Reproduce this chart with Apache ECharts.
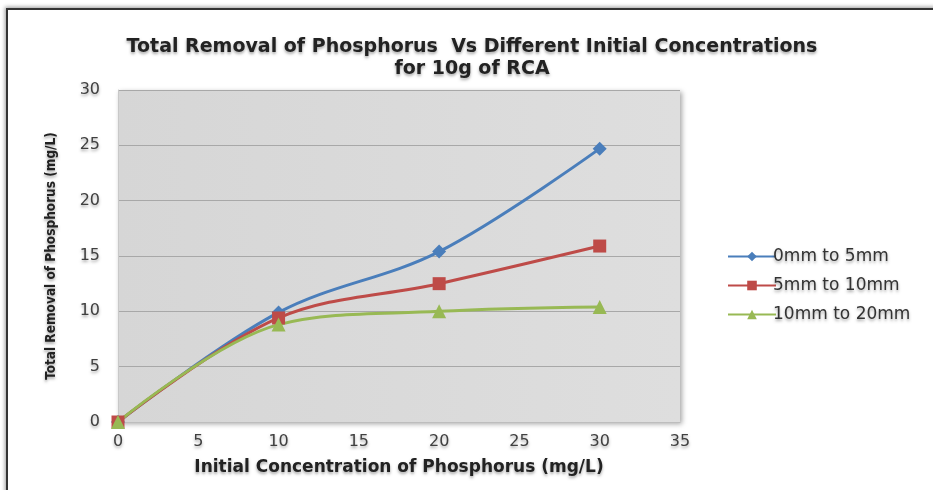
<!DOCTYPE html>
<html>
<head>
<meta charset="utf-8">
<script src="https://cdn.jsdelivr.net/npm/echarts@6/dist/echarts.min.js"></script>
<style>
  html, body { margin: 0; padding: 0; background: #fff; }
  #frame { position: absolute; left: 6px; top: 8px; width: 940px; height: 490px;
           border-left: 2px solid #333; border-top: 2px solid #333;
           box-shadow: -1px -1px 4px rgba(0,0,0,0.4); }
  #chart { position: absolute; left: 0; top: 0; width: 933px; height: 490px; }
</style>
</head>
<body>
<div id="frame"></div>
<div id="chart"></div>
<script>
// concentrations (mg/L)
const concentrations = [0, 10, 20, 30];
const seriesNames = ['0mm to 5mm', '5mm to 10mm', '10mm to 20mm'];
const removal0to5 = [0, 9.9, 15.4, 24.7];
const removal5to10 = [0, 9.4, 12.5, 15.9];
const removal10to20 = [0, 8.8, 10.0, 10.4];

const chart = echarts.init(document.getElementById('chart'));

function pairs(vals) {
    return concentrations.map((c, i) => [c, vals[i]]);
}

const labelStyle = {
    color: '#404040',
    fontFamily: 'DejaVu Sans',
    fontSize: 16,
    textShadowColor: 'rgba(0,0,0,0.35)',
    textShadowBlur: 3,
    textShadowOffsetY: 2
};

function makeSeries(name, vals, color, symbol, size) {
    return {
        name: name,
        type: 'line',
        data: pairs(vals),
        smooth: 0.35,
        symbol: symbol,
        symbolSize: size,
        lineStyle: { color: color, width: 3 },
        itemStyle: { color: color },
        emphasis: { disabled: true }
    };
}

const option = {
    backgroundColor: 'transparent',
    animation: false,
    title: {
        text: 'Total Removal of Phosphorus  Vs Different Initial Concentrations\nfor 10g of RCA',
        left: 467,
        top: 31,
        textAlign: 'center',
        textStyle: {
            fontFamily: 'DejaVu Sans',
            fontWeight: 'bold',
            fontSize: 19,
            lineHeight: 22,
            color: '#222',
            textShadowColor: 'rgba(0,0,0,0.35)',
            textShadowBlur: 3,
            textShadowOffsetY: 2
        }
    },
    legend: {
        orient: 'vertical',
        left: 722,
        top: 243,
        itemGap: 12,
        itemWidth: 48,
        itemHeight: 12,
        textStyle: Object.assign({}, labelStyle, { color: '#333', fontSize: 17, padding: [0, 0, 0, -8] }),
        data: seriesNames
    },
    grid: {
        left: 118,
        right: 253,
        top: 90,
        bottom: 68,
        show: true,
        borderWidth: 0,
        backgroundColor: new echarts.graphic.LinearGradient(0, 0, 1, 0, [
            { offset: 0, color: '#d6d6d6' },
            { offset: 1, color: '#dedede' }
        ]),
        shadowColor: 'rgba(0,0,0,0.35)',
        shadowBlur: 5,
        shadowOffsetX: 2,
        shadowOffsetY: 2
    },
    xAxis: {
        type: 'value',
        min: 0,
        max: 35,
        interval: 5,
        name: 'Initial Concentration of Phosphorus (mg/L)',
        nameLocation: 'middle',
        nameGap: 37,
        nameTextStyle: Object.assign({}, labelStyle, { color: '#222', fontWeight: 'bold', fontSize: 17 }),
        axisLine: { show: true, lineStyle: { color: '#bdbdbd', width: 1 } },
        axisTick: { show: false },
        splitLine: { show: false },
        axisLabel: Object.assign({ margin: 12 }, labelStyle)
    },
    yAxis: {
        type: 'value',
        min: 0,
        max: 30,
        interval: 5,
        name: 'Total Removal of Phosphorus (mg/L)',
        nameLocation: 'middle',
        nameGap: 60,
        nameTextStyle: Object.assign({}, labelStyle, {
            color: '#222', fontWeight: 'bold', fontSize: 13.5,
            fontFamily: 'DejaVu Sans Condensed, Open Sans'
        }),
        axisLine: { show: true, lineStyle: { color: '#c8c8c8', width: 1 } },
        axisTick: { show: false },
        splitLine: { show: true, lineStyle: { color: '#a8a8a8', width: 1 } },
        axisLabel: Object.assign({ margin: 18 }, labelStyle)
    },
    series: [
        makeSeries(seriesNames[0], removal0to5, '#4a7ebb', 'diamond', 14),
        makeSeries(seriesNames[1], removal5to10, '#be4b48', 'rect', 13),
        makeSeries(seriesNames[2], removal10to20, '#98b954', 'triangle', 14)
    ]
};

chart.setOption(option);
</script>
</body>
</html>
